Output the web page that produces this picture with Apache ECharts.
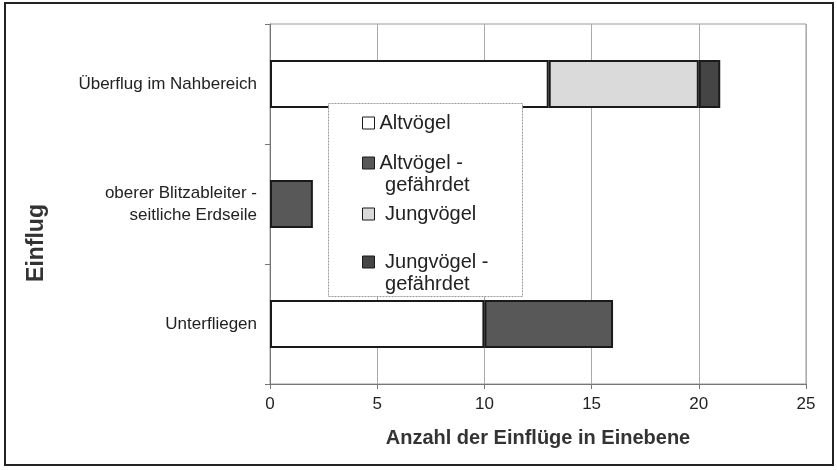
<!DOCTYPE html>
<html>
<head>
<meta charset="utf-8">
<script src="https://cdn.jsdelivr.net/npm/echarts@6/dist/echarts.min.js"></script>
<style>
    html, body {margin: 0; padding: 0; background: #fff;}
    #chart {width: 837px; height: 470px;}
</style>
</head>
<body>
<div id="chart"></div>
<script>
// Kategorien (von unten nach oben)
const categories = ['Unterfliegen', 'oberer Blitzableiter -\nseitliche Erdseile', 'Überflug im Nahbereich'];
const altvoegel = [10, null, 13];
const altvoegelGefaehrdet = [6, 2, null];
const jungvoegel = [null, null, 7];
const jungvoegelGefaehrdet = [null, null, 1];
const xTicks = [0, 5, 10, 15, 20, 25];

const font = '"Liberation Sans", Arial, sans-serif';
const textColor = '#222';

const chart = echarts.init(document.getElementById('chart'));

const barSeries = (name, data, color) => ({
    name,
    type: 'bar',
    stack: 'einflug',
    barWidth: 48,
    data,
    itemStyle: {color, borderColor: '#1a1a1a', borderWidth: 2}
});

// Legende: einzelne Einträge, damit das Symbol an der ersten Zeile steht
// (leere erste Zeile -> mittlere Zeile liegt auf Höhe des Symbols)
const legendItem = (name, label, top) => ({
    left: 357,
    top,
    orient: 'vertical',
    icon: 'rect',
    itemWidth: 12,
    itemHeight: 12,
    selectedMode: false,
    itemStyle: {borderWidth: 1},
    data: [name],
    formatter: () => label,
    textStyle: {
        fontFamily: font,
        fontSize: 20,
        color: textColor,
        lineHeight: 22
    }
});

const option = {
    animation: false,
    backgroundColor: '#fff',
    grid: {
        left: 270, right: 31, top: 24, bottom: 86,
        show: true, borderColor: '#999', borderWidth: 1
    },
    legend: [
        legendItem('Altvögel', 'Altvögel', 107),
        legendItem('Altvögel - gefährdet', '\nAltvögel -\n gefährdet', 125),
        legendItem('Jungvögel', ' Jungvögel', 198),
        legendItem('Jungvögel - gefährdet', '\n Jungvögel -\n gefährdet', 224)
    ],
    xAxis: {
        type: 'value',
        min: 0,
        max: 25,
        interval: 5,
        name: 'Anzahl der Einflüge in Einebene',
        nameLocation: 'middle',
        nameGap: 44,
        nameTextStyle: {fontFamily: font, fontSize: 20, fontWeight: 'bold', color: '#333'},
        axisLine: {show: true, lineStyle: {color: '#777', width: 1}},
        axisTick: {show: true, length: 5, lineStyle: {color: '#777'}},
        axisLabel: {fontFamily: font, fontSize: 17, color: textColor, margin: 12,
            formatter: v => xTicks.includes(v) ? String(v) : ''},
        splitLine: {show: true, lineStyle: {color: '#aaa', width: 1}}
    },
    yAxis: {
        type: 'category',
        data: categories,
        name: 'Einflug',
        nameLocation: 'middle',
        nameRotate: 90,
        nameGap: 222,
        nameTextStyle: {fontFamily: font, fontSize: 23, fontWeight: 'bold', color: '#333',
            padding: [0, 78, 0, 0]},
        axisLine: {show: true, lineStyle: {color: '#777', width: 1}},
        axisTick: {show: true, length: 5, lineStyle: {color: '#777'}},
        axisLabel: {fontFamily: font, fontSize: 17, color: textColor, margin: 13,
            lineHeight: 22, align: 'right'}
    },
    graphic: [
        {
            type: 'rect',
            z: 0,
            shape: {x: 5, y: 3, width: 828, height: 462},
            style: {fill: 'none', stroke: '#222', lineWidth: 2}
        },
        {
            type: 'rect',
            z: 3,
            shape: {x: 328.5, y: 103.5, width: 194, height: 193},
            style: {fill: '#fff', stroke: '#999', lineWidth: 1, lineDash: [2, 1]}
        }
    ],
    series: [
        barSeries('Altvögel', altvoegel, '#ffffff'),
        barSeries('Altvögel - gefährdet', altvoegelGefaehrdet, '#585858'),
        barSeries('Jungvögel', jungvoegel, '#dadada'),
        barSeries('Jungvögel - gefährdet', jungvoegelGefaehrdet, '#454545')
    ]
};

chart.setOption(option);
</script>
</body>
</html>
